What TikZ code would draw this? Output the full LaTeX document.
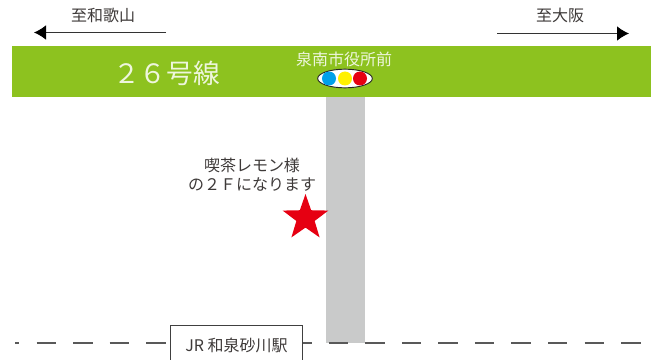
\documentclass[tikz,border=0pt]{standalone}
\usepackage{fontspec}
\setmainfont{Noto Sans CJK JP}
\usetikzlibrary{shapes.geometric,arrows.meta}
\definecolor{roadgreen}{HTML}{8DC21F}
\definecolor{roadgray}{HTML}{C9CACA}
\definecolor{inktext}{HTML}{3E3A39}
\definecolor{lampblue}{HTML}{00A0E9}
\definecolor{lampyellow}{HTML}{FFF100}
\definecolor{lampred}{HTML}{E60012}
\tikzset{
  px/.style={x=0.75pt,y=-0.75pt},
  lbl/.style={inner sep=0pt,text=inktext,font=\fontsize{12}{14}\selectfont},
  wlbl/.style={inner sep=0pt,text=white!85!roadgreen,font=\fontsize{12}{14}\selectfont},
  dir/.style={draw=black!80,line width=0.8pt,-{Latex[length=9pt,width=11pt,black]}},
  lamp/.style={circle,minimum size=10.5pt,inner sep=0pt,fill=#1},
  rail/.style={draw=black!65,line width=0.9pt,dash pattern=on 14.6pt off 12.8pt,dash phase=11.25pt}
}
\begin{document}
\begin{tikzpicture}[px]
\useasboundingbox (0,0) rectangle (651,360);
\fill[roadgreen] (12,46) rectangle (651,97);
\fill[roadgray] (326,97) rectangle (365,343);
\coordinate (railL) at (15,343);
\coordinate (railR) at (641,343);
\draw[rail] (railL) -- (railR);
\node[draw=black!75,fill=white,line width=0.9pt,minimum width=99.5pt,minimum height=30pt,inner sep=0pt,anchor=north west,text=inktext,font=\fontsize{12}{14}\selectfont] (station) at (169.5,324.5) {JR 和泉砂川駅};
\coordinate (wakaS) at (166,32.5);
\coordinate (wakaE) at (34,32.5);
\draw[dir] (wakaS) -- (wakaE);
\coordinate (osakaS) at (497,33.5);
\coordinate (osakaE) at (629,33.5);
\draw[dir] (osakaS) -- (osakaE);
\node[lbl] (waka) at (103,15) {至和歌山};
\node[lbl] (osaka) at (560,15) {至大阪};
\node[inner sep=0pt,text=white!85!roadgreen,font=\fontsize{20}{24}\selectfont] (route) at (166.5,73) {２６号線};
\node[wlbl] (city) at (344,59.5) {泉南市役所前};
\node[ellipse,draw=black!85,fill=white,line width=0.7pt,minimum width=41pt,minimum height=14pt,inner sep=0pt] (signal) at (345,78.5) {};
\node[lamp=lampblue] (blue) at (329,78.5) {};
\node[lamp=lampyellow] (yellow) at (345,78.5) {};
\node[lamp=lampred] (red) at (360,78.5) {};
\node[lbl,align=center] (note) at (252,174.5) {喫茶レモン様\\[0pt]の２Ｆになります};
\node[star,star points=5,star point ratio=2.5,fill=lampred,minimum size=36pt,inner sep=0pt] (mark) at (305.5,218) {};
\end{tikzpicture}
\end{document}
